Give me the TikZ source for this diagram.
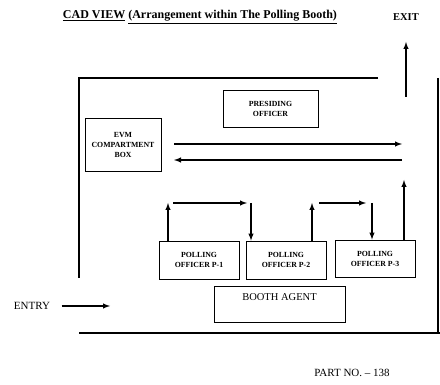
\documentclass[tikz,border=0pt]{standalone}
\usepackage{fontspec}
\setmainfont{Liberation Serif}
\usepackage{tikz}
\usetikzlibrary{arrows}

\begin{document}
\begin{tikzpicture}[x=1pt, y=-1pt,
    wall/.style={line width=2pt},
    flow/.style={->, >=latex, line width=1.4pt},
    desk/.style={draw, line width=0.8pt, align=center, inner sep=1pt,
                 font=\bfseries\fontsize{7.8}{10}\selectfont},
    caption/.style={font=\fontsize{11}{13}\selectfont}]

    \useasboundingbox (0,0) rectangle (440,385);

    \node[font=\bfseries\fontsize{12}{14}\selectfont] (title) at (200,17)
    {\underline{CAD VIEW} \underline{(Arrangement within The Polling Booth)}};
    \node[font=\bfseries\fontsize{10.5}{12}\selectfont] (exit) at (406,17) {EXIT};
    \node[caption] (entry) at (32,306) {ENTRY};
    \node[caption] (partno) at (352,373) {PART NO. -- 138};

    % walls of the booth
    \draw[wall] (378,78) -- (79,78) -- (79,278);
    \draw[wall] (79,333) -- (440,333);
    \draw[wall] (438,78) -- (438,333);

    \node[desk, minimum width=95pt, minimum height=37pt] (presiding) at (270.5,108.5)
    {PRESIDING\\OFFICER};
    \node[desk, minimum width=76pt, minimum height=53pt] (evm) at (123,144.5)
    {EVM\\COMPARTMENT\\BOX};
    \node[desk, minimum width=80pt, minimum height=38pt] (po1) at (199,260)
    {POLLING\\OFFICER P-1};
    \node[desk, minimum width=80pt, minimum height=38pt] (po2) at (286,260)
    {POLLING\\OFFICER P-2};
    \node[desk, minimum width=80pt, minimum height=37pt] (po3) at (375,258.5)
    {POLLING\\OFFICER P-3};
    \node[draw, line width=0.8pt, align=center, minimum width=131pt,
          minimum height=36pt, font=\fontsize{10.5}{12}\selectfont] (agent) at (279.5,304)
    {BOOTH AGENT\\[2pt]\mbox{}};

    % turning points of the voter path
    \coordinate (in) at (110,306);
    \coordinate (out1) at (174,144);
    \coordinate (back1) at (402,144);
    \coordinate (out2) at (402,160);
    \coordinate (back2) at (174,160);
    \coordinate (up1) at (168,203);
    \coordinate (top1a) at (173,203);
    \coordinate (top1b) at (247,203);
    \coordinate (down1) at (251,203);
    \coordinate (up2) at (312,203);
    \coordinate (top2a) at (319,203);
    \coordinate (top2b) at (366,203);
    \coordinate (down2) at (372,203);
    \coordinate (up3) at (404,180);
    \coordinate (exitfoot) at (406,97);

    \draw[flow] ([xshift=8pt]entry.east) -- (in);
    \draw[flow] (out1) -- (back1);
    \draw[flow] (out2) -- (back2);
    \draw[flow] (po1.north -| up1) -- (up1);
    \draw[flow] (top1a) -- (top1b);
    \draw[flow] (down1) -- (po2.north -| down1);
    \draw[flow] (po2.north -| up2) -- (up2);
    \draw[flow] (top2a) -- (top2b);
    \draw[flow] (down2) -- (po3.north -| down2);
    \draw[flow] (po3.north -| up3) -- (up3);
    \draw[flow] (exitfoot) -- ([yshift=-18pt]exit.south);
\end{tikzpicture}
\end{document}
